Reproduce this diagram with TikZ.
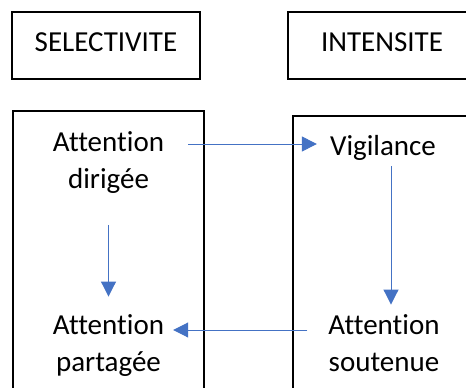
\documentclass[tikz,border=0pt]{standalone}
\usepackage{fontspec}
\setmainfont{Carlito}[Ligatures=NoCommon]
\usetikzlibrary{arrows.meta}
\definecolor{arrowblue}{HTML}{4472C4}
\tikzset{
  frame/.style={draw=black, line width=1.2pt},
  header/.style={frame, minimum width=188pt, minimum height=67pt, inner sep=0pt,
    text height=19pt, text depth=7pt, font=\fontsize{29}{37.5}\selectfont},
  label/.style={inner sep=0pt, font=\fontsize{29}{37.5}\selectfont},
  arr/.style={draw=arrowblue, line width=1pt, -{Triangle[length=15pt,width=15pt]}, arrowblue}
}
\newcommand{\twolines}[2]{\begin{tabular}[t]{@{}c@{}}#1\\#2\end{tabular}}
\begin{document}
\begin{tikzpicture}[x=1pt,y=-1pt]
\useasboundingbox (0,0) rectangle (466,388);
\clip (0,0) rectangle (466,388);
% header boxes
\node[header] (sel) at (106,45.5) {SELECTIVITE};
\node[header] (int) at (382,45.5) {INTENSITE};
% column frames
\draw[frame] (13,111) rectangle (204,400);
\draw[frame] (293,116) rectangle (484,400);
% text nodes
\node[label, anchor=base] (ad) at (108.5,151) {\twolines{Attention}{dirigée}};
\node[label, anchor=base] (vig) at (383,155) {Vigilance};
\node[label, anchor=base] (ap) at (108.5,334) {\twolines{Attention}{partagée}};
\node[label, anchor=base] (as) at (384,334) {\twolines{Attention}{soutenue}};
% arrows
\draw[arr, shorten <=24pt, shorten >=13pt] ([yshift=7pt]ad.base east) -- ([yshift=7pt]ad.base east -| vig.west);
\draw[arr, shorten <=6pt, shorten >=3pt] ([xshift=8pt]vig.south) -- ([xshift=8pt]vig.south |- as.north);
\draw[arr, shorten <=25pt, shorten >=11pt] (ad.south) -- (ap.north);
\draw[arr, shorten <=21pt, shorten >=9pt] ([yshift=4pt]as.base west) -- ([yshift=4pt]as.base west -| ap.east);
\end{tikzpicture}
\end{document}
